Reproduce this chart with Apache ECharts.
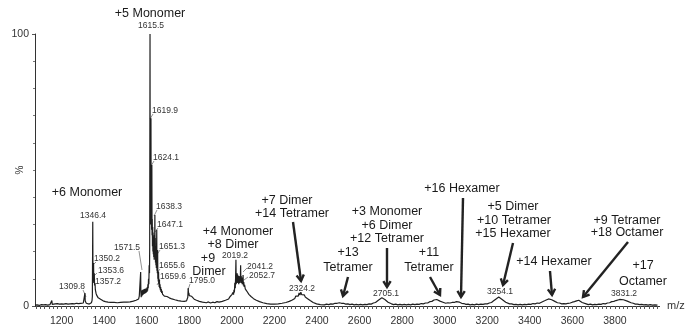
<!DOCTYPE html>
<html>
<head>
<meta charset="utf-8">
<script src="https://cdn.jsdelivr.net/npm/echarts@6/dist/echarts.min.js"></script>
<style>html,body{margin:0;padding:0;background:#fff}#c{width:689px;height:334px}</style>
</head>
<body>
<div id="c"></div>
<script>
// ---- spectrum: [m/z, % intensity] ----
const specLow = [[1075,0.3],[1080,0.7],[1085,0.4],[1090,0.8],[1095,0.2],[1100,0.6],[1105,0.5],[1110,0.9],[1115,0.4],[1120,0.7],[1125,0.5],[1130,0.8],[1135,0.3],[1140,0.7],[1145,0.5],[1150,0.8],[1152,0.6],[1154,2.0],[1156,0.6],[1160,0.9],[1165,0.4],[1170,0.8],[1175,0.6],[1180,0.9],[1185,0.3],[1190,0.7],[1195,0.5],[1200,0.8],[1205,0.4],[1210,0.7],[1215,0.6],[1220,0.9],[1225,0.3],[1230,0.7],[1235,0.5],[1240,0.8],[1245,0.6],[1250,0.9],[1255,0.4],[1260,0.8],[1265,0.7],[1270,1.0],[1275,0.5],[1280,0.9],[1285,0.6],[1290,1.0],[1295,0.9],[1299,1.3],[1302,1.1],[1305,1.7],[1307,1.4],[1309.8,4.8],[1311,1.8],[1313,1.3],[1316,1.0],[1320,0.8],[1325,1.0],[1330,0.7],[1335,1.1],[1340,1.2],[1343,2.0],[1344.5,3.5],[1346.4,31],[1347.5,9],[1348.8,12],[1350.2,15.8],[1351.2,8.5],[1352.4,10],[1353.6,12],[1354.8,7.5],[1356,8],[1357.2,8.4],[1358.5,6],[1360,6.2],[1362,4.6],[1364,4.9],[1366,3.8],[1369,3.9],[1372,3.0],[1376,3.1],[1380,2.3],[1385,2.4],[1390,1.7],[1395,1.9],[1400,1.3],[1406,1.6],[1412,1.1],[1418,1.4],[1425,0.9],[1432,1.3],[1440,1.0],[1447,1.3],[1455,0.8],[1462,1.2],[1470,1.0],[1477,1.3],[1485,0.9],[1492,1.4],[1500,1.1],[1507,1.4],[1515,1.0],[1522,1.5],[1530,1.3],[1537,1.8],[1545,1.6],[1550,2.1],[1555,2.0],[1559,2.8],[1562,2.6],[1565,3.6],[1567,3.5],[1569,4.3],[1570.5,4.0],[1571.5,12.5],[1572.5,5]];
const specMonomer = [[1574,3.2],[1575.5,5.5],[1577,3.6],[1578.5,5.8],[1580,4.0],[1581.5,6.0],[1583,4.2],[1584.5,5.6],[1586,4.4],[1587.5,6.2],[1589,4.5],[1590.5,5.8],[1592,4.6],[1593.5,6.4],[1595,4.8],[1596.5,6.0],[1598,5.0],[1599.5,6.5],[1601,5.2],[1602.5,7.0],[1604,5.6],[1605.5,8.0],[1607,6.5],[1608.5,10],[1610,8],[1611.5,15],[1613,12],[1614,22],[1615.5,100],[1616.5,30],[1617.5,48],[1618.5,35],[1619.9,69],[1620.8,30],[1621.8,44],[1622.8,28],[1624.1,51.8],[1625,26],[1626,32],[1627,22],[1628,29],[1629,20],[1630,27],[1631,19],[1632,25],[1633,18],[1634,24],[1635,17],[1636,26],[1637,20],[1638.3,33.5],[1639.2,18],[1640.2,25],[1641.2,16],[1642.2,22],[1643.2,15],[1644.2,21],[1645.2,14],[1646.2,20],[1647.1,28],[1648,13],[1649,18],[1650,12],[1651.3,20.6],[1652.2,10],[1653.2,13],[1654.2,9],[1655.6,12.5],[1656.5,8],[1657.5,10],[1658.5,7],[1659.6,9.6],[1661,6.5],[1662.5,8],[1664,5.8],[1665.5,7],[1667,5.2],[1668.5,6.2],[1670,4.8],[1672,5.6],[1674,4.4],[1676,5.0],[1678,4.0],[1680,4.5],[1683,3.6],[1686,4.0],[1690,3.3],[1695,3.5],[1700,2.9],[1706,3.0],[1712,2.4],[1718,2.6],[1725,2.0],[1732,2.3],[1740,1.7],[1747,2.0],[1755,1.5],[1762,1.8],[1770,1.4],[1776,1.7],[1782,1.5],[1787,1.9],[1790,1.8],[1793,3.2],[1795,6.6],[1796.5,4],[1798,4.8],[1800,3.8],[1803,4.2],[1806,3.4],[1810,3.6],[1814,2.9],[1818,3.1],[1823,2.5],[1828,2.6],[1834,2.1],[1840,2.2],[1847,1.7],[1854,1.9],[1862,1.4],[1870,1.7],[1880,1.2],[1890,1.5],[1900,1.1],[1910,1.4],[1920,1.2],[1930,1.6],[1940,1.4],[1948,1.9],[1955,1.7],[1962,2.3],[1970,2.1],[1977,2.8],[1985,2.6],[1991,3.4],[1996,3.2],[2000,4.2]];
const specDimer = [[2003,3.8],[2006,5.0],[2008,4.2],[2010,6.0],[2012,5.0],[2014,8.5],[2016,6.5],[2017.5,10],[2019.2,17],[2020.5,8],[2022,11],[2023.5,8.5],[2025,12],[2026.5,9],[2028,11.5],[2029.5,8.5],[2031,10.5],[2032.5,8],[2034,11],[2035.5,9],[2037,10.5],[2038.5,8.5],[2040,10],[2041.2,15],[2042.5,9],[2044,11],[2045.5,8.5],[2047,10.5],[2048.5,8],[2050,10],[2051.5,8.5],[2052.7,11.4],[2054,7.5],[2056,8.8],[2058,7.0],[2060,7.8],[2063,6.3],[2066,6.8],[2070,5.5],[2075,5.0],[2080,4.3],[2085,4.4],[2090,3.5],[2096,3.4],[2102,2.7],[2108,2.7],[2115,2.1],[2122,2.1],[2130,1.6],[2138,1.6],[2146,1.2],[2155,1.3],[2164,0.9],[2173,1.1],[2182,0.7],[2191,1.0],[2200,0.7],[2209,1.0],[2218,0.8],[2227,1.1],[2236,1.0],[2245,1.3],[2254,1.3],[2262,1.8],[2270,1.7],[2277,2.3],[2284,2.2],[2290,2.9],[2296,2.8],[2300,3.6],[2304,3.1],[2308,4.2],[2312,3.6],[2316,4.8],[2320,4.0],[2324.2,5.1],[2328,4.2],[2332,4.9],[2336,3.9],[2340,4.1],[2345,3.3],[2350,3.4],[2356,2.7],[2362,2.6],[2368,2.0],[2375,1.9],[2382,1.3],[2390,1.2],[2398,0.8],[2407,0.9],[2416,0.5],[2425,0.7],[2435,0.4],[2445,0.7],[2455,0.5],[2465,0.8],[2475,0.7],[2485,1.0],[2495,1.0],[2505,1.2],[2515,1.0],[2525,1.0],[2535,0.7],[2545,0.8],[2555,0.5],[2565,0.7],[2575,0.4],[2585,0.6],[2595,0.4],[2605,0.6],[2615,0.4],[2625,0.6],[2635,0.5],[2645,0.8],[2655,0.7],[2665,1.1],[2675,1.3],[2683,1.9],[2690,2.2],[2697,2.8],[2705,3.0],[2712,2.6],[2719,2.4],[2726,1.7],[2734,1.4],[2742,0.9],[2750,0.8]];
const specHigh = [[2760,0.5],[2770,0.7],[2780,0.4],[2790,0.6],[2800,0.4],[2810,0.6],[2820,0.4],[2830,0.6],[2840,0.4],[2850,0.7],[2860,0.5],[2870,0.7],[2880,0.6],[2890,0.9],[2900,0.8],[2910,1.1],[2920,1.1],[2930,1.6],[2940,1.7],[2950,2.2],[2957,2.1],[2963,2.4],[2970,2.0],[2978,1.8],[2986,1.4],[2995,1.3],[3005,1.0],[3015,1.2],[3025,1.1],[3035,1.3],[3045,1.3],[3055,1.6],[3062,1.5],[3070,1.4],[3080,1.0],[3090,0.9],[3100,0.6],[3110,0.7],[3120,0.4],[3130,0.6],[3140,0.4],[3150,0.7],[3160,0.5],[3170,0.7],[3180,0.6],[3190,0.8],[3200,0.8],[3210,1.1],[3220,1.3],[3230,1.9],[3240,2.5],[3248,3.0],[3254,3.3],[3262,3.0],[3270,2.4],[3278,2.0],[3287,1.4],[3296,1.1],[3305,0.8],[3315,0.8],[3325,0.5],[3335,0.6],[3345,0.4],[3355,0.6],[3365,0.4],[3375,0.6],[3385,0.5],[3395,0.7],[3405,0.6],[3415,0.9],[3425,0.8],[3435,1.1],[3445,1.0],[3455,1.4],[3464,1.6],[3472,2.0],[3480,2.2],[3488,2.6],[3495,2.5],[3503,2.3],[3511,1.9],[3520,1.6],[3530,1.2],[3540,1.1],[3550,0.8],[3560,0.9],[3570,0.8],[3580,1.0],[3590,1.1],[3600,1.4],[3610,1.6],[3620,1.9],[3630,2.1],[3638,1.6],[3646,1.3],[3655,0.9],[3665,0.8],[3675,0.5],[3685,0.7],[3695,0.4],[3705,0.6],[3715,0.5],[3725,0.7],[3735,0.6],[3745,0.9],[3755,0.8],[3765,1.1],[3775,1.2],[3785,1.6],[3795,1.7],[3805,2.0],[3813,2.1],[3822,2.4],[3831,2.5],[3840,2.3],[3849,2.2],[3858,1.8],[3867,1.6],[3876,1.2],[3886,1.0],[3896,0.7],[3906,0.7],[3916,0.5],[3926,0.6],[3936,0.4],[3946,0.5],[3956,0.3],[3966,0.5],[3976,0.3],[3988,0.4],[4000,0.3]];
const xTickLabels = [1200,1400,1600,1800,2000,2200,2400,2600,2800,3000,3200,3400,3600,3800];

// ---- annotation layout (pixels) ----
const bigLabels = [
  ['+5 Monomer',150,14],['+6 Monomer',87,193],['+4 Monomer',238,232],['+8 Dimer',233,245],
  ['+9',208,259],['Dimer',209,272],['+7 Dimer',287,201],['+14 Tetramer',292,214],
  ['+13',348,253],['Tetramer',348,268],['+3 Monomer',387,212],['+6 Dimer',387,226],['+12 Tetramer',387,239],
  ['+11',429,253],['Tetramer',429,268],['+16 Hexamer',462,189],
  ['+5 Dimer',513,207],['+10 Tetramer',514,221],['+15 Hexamer',513,234],['+14 Hexamer',554,262],
  ['+9 Tetramer',627,221],['+18 Octamer',627,233],['+17',643,266],['Octamer',643,282]
];
const peakLabels = [
  ['1615.5',151,26],['1619.9',165,111],['1624.1',166,158],['1346.4',93,216],
  ['1638.3',169,207],['1647.1',170,225],['1651.3',172,247],['1655.6',172,266],['1659.6',173,277],
  ['1571.5',127,248],['1350.2',107,259],['1353.6',111,271],['1357.2',108,282],['1309.8',72,287],
  ['1795.0',202,281],['2019.2',235,256],['2041.2',260,267],['2052.7',262,276],
  ['2324.2',302,289],['2705.1',386,294],['3254.1',500,292],['3831.2',624,294]
];
const leaders = [
  [153,114,150,119],[154,161,151,166],[139,251,142,270],[96,262,92,266],[97,273,93,277],
  [83,290,86,297],[157,210,154,216],[158,228,155,232],[160,250,156,256],[160,269,157,273],
  [160,280,157,285],[190,284,188,290],[247,268,243,272],[248,277,244,280]
];
const arrows = [
  [293,222,301,281],[348,277,343,296],[387,248,387,287],[430,277,440,295],
  [463,198,461,297],[513,243,503,285],[550,271,552,295],[628,242,583,297]
];

const minorTicks = [];
for (let v = 1080; v <= 4000; v += 20) minorTicks.push(v);

const chart = echarts.init(document.getElementById('c'), null, {renderer:'canvas'});
const FONT = 'Liberation Sans, Arial, Helvetica, sans-serif';

const graphic = [];
bigLabels.forEach(([t,x,y]) => graphic.push({type:'text', x, y, style:{text:t, fill:'#1a1a1a', font:'12.5px '+FONT, textAlign:'center', textVerticalAlign:'middle'}}));
peakLabels.forEach(([t,x,y]) => graphic.push({type:'text', x, y, style:{text:t, fill:'#333', font:'8.5px '+FONT, textAlign:'center', textVerticalAlign:'middle'}}));
leaders.forEach(([x1,y1,x2,y2]) => graphic.push({type:'line', shape:{x1,y1,x2,y2}, style:{stroke:'#777', lineWidth:0.8}}));
arrows.forEach(([x1,y1,x2,y2]) => {
  graphic.push({type:'line', shape:{x1,y1,x2,y2}, style:{stroke:'#222', lineWidth:2.4}});
  const a = Math.atan2(y2-y1, x2-x1), L = 7, w = 0.55;
  graphic.push({type:'polyline', shape:{points:[
    [x2 - L*Math.cos(a-w), y2 - L*Math.sin(a-w)], [x2, y2], [x2 - L*Math.cos(a+w), y2 - L*Math.sin(a+w)]
  ]}, style:{stroke:'#222', lineWidth:2.4, fill:null}});
});
graphic.push({type:'text', x:667, y:306, style:{text:'m/z', fill:'#333', font:'11px '+FONT, textVerticalAlign:'middle'}});
graphic.push({type:'text', x:20, y:170, rotation:Math.PI/2, style:{text:'%', fill:'#333', font:'10px '+FONT, textAlign:'center', textVerticalAlign:'middle'}});

const spectrum = specLow.concat(specMonomer, specDimer, specHigh);

chart.setOption({
  animation:false,
  backgroundColor:'#fff',
  grid:{left:35, right:29.4, top:34, bottom:28, containLabel:false},
  xAxis:{type:'value', min:1075, max:4010,
    axisLine:{lineStyle:{color:'#333', width:1}},
    axisTick:{show:true, customValues:minorTicks, length:3, lineStyle:{color:'#555'}},
    axisLabel:{customValues:xTickLabels, formatter:v => String(v), color:'#333', fontSize:10.5, fontFamily:FONT, margin:10},
    splitLine:{show:false}},
  yAxis:{type:'value', min:0, max:100, interval:100,
    axisLine:{show:true, lineStyle:{color:'#333', width:1}},
    axisTick:{show:true, length:3, lineStyle:{color:'#555'}},
    minorTick:{show:true, splitNumber:10, length:2, lineStyle:{color:'#777'}},
    axisLabel:{formatter:v => String(v), color:'#333', fontSize:10.5, fontFamily:FONT, margin:6},
    splitLine:{show:false}},
  series:[{type:'line', data:spectrum, symbol:'none', showSymbol:false,
    lineStyle:{color:'#1f1f1f', width:1.2}, z:2}],
  graphic
});
</script>
</body>
</html>
